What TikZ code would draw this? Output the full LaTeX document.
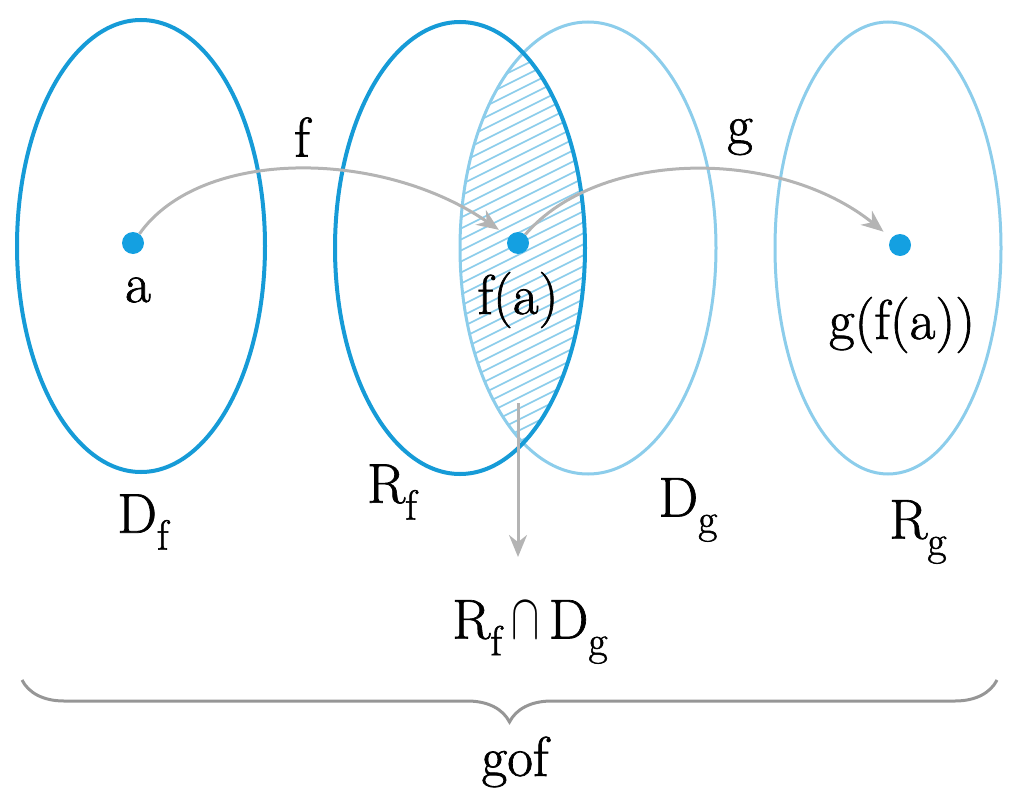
\documentclass[tikz,border=0pt]{standalone}
\usepackage{fontspec}
\newfontfamily\lblfont{Latin Modern Roman}[FakeBold=1.2]
\usetikzlibrary{decorations.pathreplacing,arrows.meta}
\definecolor{darkb}{RGB}{22,155,215}
\definecolor{lightb}{RGB}{140,205,235}
\definecolor{dotb}{RGB}{20,160,225}
\definecolor{arrg}{RGB}{180,180,180}
\definecolor{braceg}{RGB}{150,150,150}
\newcommand{\sbs}[1]{\raisebox{-0.3em}{\fontsize{42}{42}\selectfont #1}}
\tikzset{
  setdark/.style={draw=darkb, line width=4pt},
  setlight/.style={draw=lightb, line width=3pt},
  pt/.style={circle, fill=dotb, inner sep=0pt, minimum size=22pt},
  lbl/.style={inner sep=0pt, font=\lblfont\fontsize{56}{60}\selectfont},
  arr/.style={draw=arrg, line width=3pt, -{Stealth[length=22pt,width=18pt]}},
}
\begin{document}
\begin{tikzpicture}[x=1pt,y=-1pt]
\useasboundingbox (0,0) rectangle (1017,792);
% hatched intersection
\begin{scope}
  \clip (460,248) ellipse [x radius=125pt, y radius=226pt];
  \clip (588,248) ellipse [x radius=128pt, y radius=226pt];
  \foreach \c in {-20,-9,...,560}
    \draw[lightb, line width=1.6pt] (430,\c+44) -- (610,\c-46);
\end{scope}
% sets
\draw[setlight] (588,248) ellipse [x radius=128pt, y radius=226pt];
\draw[setlight] (888,248) ellipse [x radius=113pt, y radius=226pt];
\draw[setdark] (141,246) ellipse [x radius=124pt, y radius=226pt];
\draw[setdark] (460,248) ellipse [x radius=125pt, y radius=226pt];
% points
\node[pt] (a) at (133,243) {};
\node[pt] (fa) at (518,243) {};
\node[pt] (gfa) at (900,245) {};
% labels
\node[lbl] (la) at (138,290) {a};
\node[lbl] (lfa) at (518,300) {f(a)};
\node[lbl] (lgfa) at (902,325) {g(f(a))};
\node[lbl] (lf) at (302,137) {f};
\node[lbl] (lg) at (740,137) {g};
\node[lbl] (Df) at (143,522) {D\sbs{f}};
\node[lbl] (Rf) at (392,492) {R\sbs{f}};
\node[lbl] (Dg) at (688,510) {D\sbs{g}};
\node[lbl] (Rg) at (918,532) {R\sbs{g}};
\node[lbl] (cap) at (530,632) {R\sbs{f}\,\scalebox{1.7}[2.6]{$\cap$}\,D\sbs{g}};
\node[lbl] (gof) at (515,762) {gof};
% mapping arrows
\draw[arr, shorten >=12pt] (a) .. controls (200,148) and (380,148) .. (fa);
\draw[arr, shorten >=10pt] (fa) .. controls (600,148) and (780,148) .. (gfa);
\coordinate (vtop) at (518,403);
\coordinate (vbot) at (518,557);
\draw[arr] (vtop) -- (vbot);
% brace
\coordinate (bl) at (22,680);
\coordinate (br) at (997,680);
\draw[braceg, line width=3pt, decorate, decoration={brace, mirror, amplitude=42pt}] (bl) -- (br);
\end{tikzpicture}
\end{document}
